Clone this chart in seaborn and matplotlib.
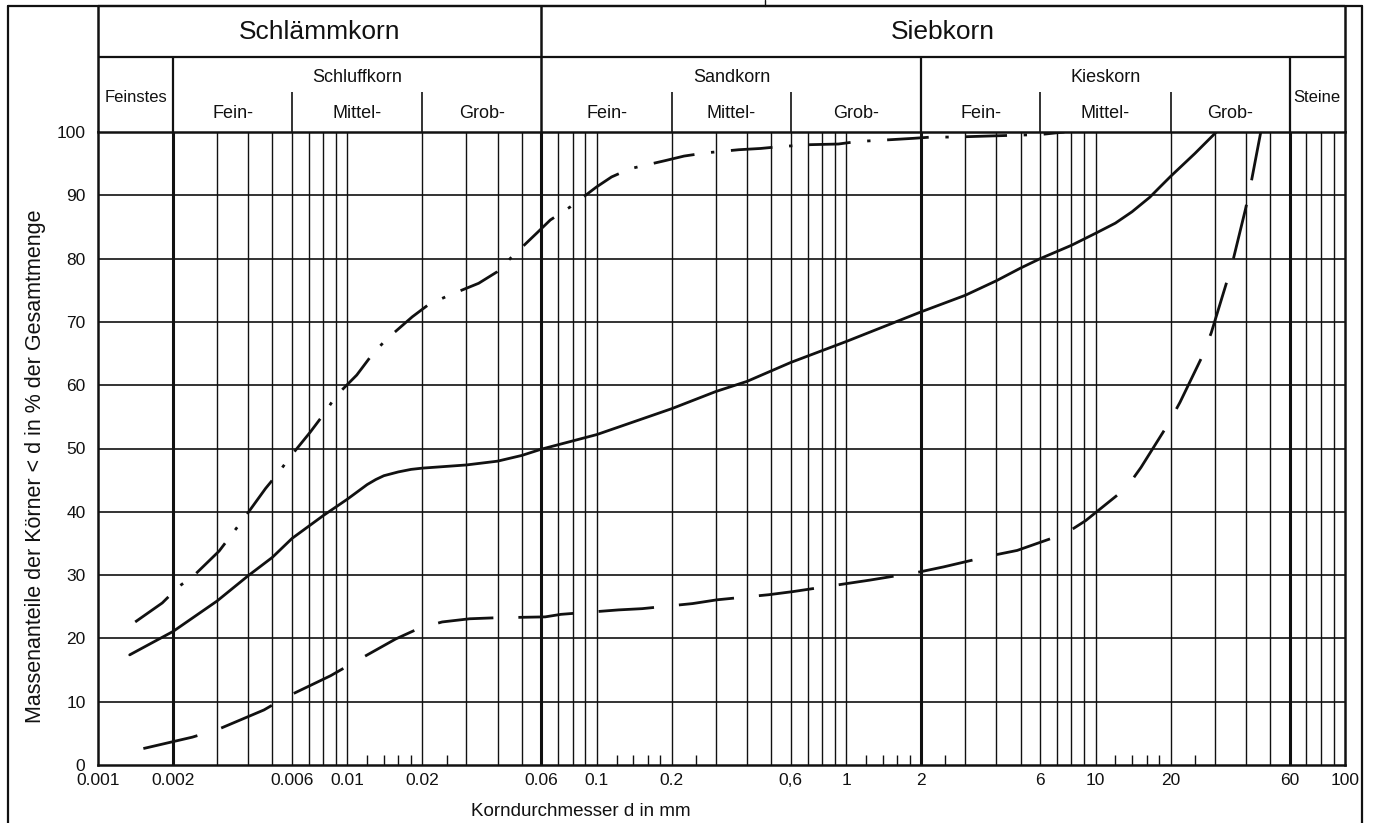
import matplotlib
matplotlib.use("Agg")
import matplotlib.pyplot as plt
from matplotlib.ticker import NullLocator
import numpy as np
import pandas as pd
import seaborn as sns

# Körnungslinien: Korndurchmesser d in mm, Massenanteil < d in %
solid_d = [0.00134, 0.002, 0.003, 0.004, 0.005, 0.006, 0.008, 0.01, 0.011, 0.012, 0.013,
           0.014, 0.016, 0.018, 0.02, 0.03, 0.04, 0.05, 0.06, 0.1, 0.2, 0.3, 0.4, 0.6, 1, 2,
           3, 4, 5, 6, 8, 10, 12, 14, 16.5, 18, 20, 25, 30.5]
solid_p = [17.4, 21.1, 25.9, 29.9, 32.8, 35.8, 39.4, 42.0, 43.2, 44.3, 45.1,
           45.7, 46.3, 46.7, 46.9, 47.4, 48.0, 48.9, 49.9, 52.2, 56.3, 59.0, 60.6, 63.6, 66.9, 71.6,
           74.2, 76.5, 78.5, 80.0, 82.1, 84.0, 85.6, 87.4, 89.7, 91.2, 93.0, 96.6, 100]

dashdot_d = [0.00141, 0.00181, 0.00211, 0.00242, 0.00306, 0.00345, 0.00387, 0.0047, 0.0053,
             0.0059, 0.0071, 0.0081, 0.009, 0.0109, 0.0126, 0.0143, 0.0182, 0.0211, 0.0252,
             0.0336, 0.0398, 0.0452, 0.0577, 0.0651, 0.0785, 0.0996, 0.1146, 0.136, 0.189,
             0.224, 0.273, 0.371, 0.454, 0.545, 0.72, 0.93, 1.11, 1.53, 1.86, 2.2, 2.7, 4.0,
             6.0, 7.5]
dashdot_p = [22.6, 25.6, 28.2, 29.9, 33.8, 36.5, 39.1, 43.7, 46.2,
             48.7, 52.6, 55.6, 58.3, 61.6, 64.9, 67.2, 70.8, 72.7, 74.1,
             76.1, 77.9, 80.1, 84.1, 86.1, 88.2, 91.3, 92.9, 94.2, 95.5,
             96.2, 96.7, 97.2, 97.4, 97.7, 98.0, 98.1, 98.5, 98.8, 99.0, 99.2, 99.2, 99.4,
             99.6, 100]

dashed_d = [0.00152, 0.00239, 0.00306, 0.00463, 0.00566, 0.00856, 0.0105, 0.0156, 0.0194,
            0.024, 0.0309, 0.0388, 0.0621, 0.0718, 0.1221, 0.152, 0.242, 0.304, 0.489, 0.613,
            0.98, 1.24, 1.97, 2.46, 3.85, 4.85, 7.6, 9.12, 13.3, 15.2, 19.5, 21.8, 26.8,
            29.1, 33.5, 35.7, 39.9, 41.8, 45.9]
dashed_p = [2.6, 4.4, 5.7, 8.7, 10.7, 14.1, 16.1, 19.9, 21.6,
            22.6, 23.1, 23.25, 23.4, 23.8, 24.5, 24.7, 25.5, 26.1, 26.9, 27.4,
            28.6, 29.2, 30.5, 31.3, 33.1, 33.9, 36.6, 38.6, 43.8, 47.0, 53.8, 57.3, 64.6,
            68.3, 76.2, 80.0, 87.8, 91.5, 99.9]

x_ticks = [0.001, 0.002, 0.006, 0.01, 0.02, 0.06, 0.1, 0.2, 0.6, 1, 2, 6, 10, 20, 60, 100]
x_labels = ["0.001", "0.002", "0.006", "0.01", "0.02", "0.06", "0.1", "0.2", "0,6",
            "1", "2", "6", "10", "20", "60", "100"]
y_ticks = list(range(0, 101, 10))

group_names = ["Schlämmkorn", "Siebkorn"]
group_edges = [0.001, 0.06, 100]
class_names = ["Feinstes", "Schluffkorn", "Sandkorn", "Kieskorn", "Steine"]
class_edges = [0.001, 0.002, 0.06, 2, 60, 100]
sub_names = ["Fein-", "Mittel-", "Grob-"]
sub_edges = [[0.002, 0.006, 0.02, 0.06], [0.06, 0.2, 0.6, 2], [2, 6, 20, 60]]

W, H = 1373, 823
INK = "#111111"


def gmean(a, b):
    return float(np.sqrt(a * b))


def main() -> None:
    sns.set_theme(style="white")
    plt.rcParams["font.family"] = ["Liberation Sans", "DejaVu Sans"]
    plt.rcParams["text.color"] = INK

    fig = plt.figure(figsize=(W / 100, H / 100), dpi=100)

    # outer border of the sheet
    frame = fig.add_axes([0, 0, 1, 1], zorder=-1)
    frame.set_xlim(0, W)
    frame.set_ylim(H, 0)
    frame.axis("off")
    frame.plot([8, 8], [6, H], color=INK, lw=1.6)
    frame.plot([1362, 1362], [6, H], color=INK, lw=1.6)
    frame.plot([8, 1362], [6, 6], color=INK, lw=1.6)
    frame.plot([765, 765], [0, 6], color=INK, lw=1.0)

    ax = fig.add_axes([98 / W, 1 - 765 / H, (1345 - 98) / W, (765 - 132) / H])
    ax.set_xscale("log")
    ax.set_xlim(0.001, 100)
    ax.set_ylim(0, 100)

    # vertical grid: 1..9 per decade, boundaries thicker
    grid_x = [m * 10.0 ** e for e in range(-3, 2) for m in range(2, 10)]
    grid_x += [10.0 ** e for e in range(-2, 2)]
    ax.vlines(grid_x, 0, 100, color=INK, lw=1.0, zorder=1)
    ax.vlines(class_edges[1:-1], 0, 100, color=INK, lw=2.2, zorder=1)
    ax.hlines(y_ticks[1:-1], 0.001, 100, color=INK, lw=1.2, zorder=1)
    small = [m * 10.0 ** e for e in range(-2, 2) for m in (1.2, 1.4, 1.6, 1.8, 2.5)]
    ax.vlines(small, 0, 1.6, color=INK, lw=1.0, zorder=1)

    line_kw = dict(color=INK, lw=2.0, sort=False, estimator=None, errorbar=None,
                   ax=ax, zorder=3)
    sns.lineplot(x=solid_d, y=solid_p, linestyle="-", **line_kw)
    sns.lineplot(x=dashdot_d, y=dashdot_p, linestyle=(0, (15, 6, 1.2, 6)), **line_kw)
    sns.lineplot(x=dashed_d, y=dashed_p, linestyle=(0, (20, 9)), **line_kw)

    for side in ["left", "right", "top", "bottom"]:
        ax.spines[side].set_color(INK)
        ax.spines[side].set_linewidth(1.8)
    ax.set_xticks(x_ticks)
    ax.set_xticklabels(x_labels)
    ax.xaxis.set_minor_locator(NullLocator())
    ax.set_yticks(y_ticks)
    ax.tick_params(axis="both", length=0, labelsize=12.5, colors=INK)
    ax.tick_params(axis="x", pad=6)
    ax.tick_params(axis="y", pad=9)
    ax.set_xlabel("")
    ax.set_ylabel("")
    ax.text(0.387, -0.074, "Korndurchmesser d in mm", transform=ax.transAxes,
            ha="center", va="center", fontsize=13.5)
    ax.text(-0.0505, 0.472, "Massenanteile der Körner < d in % der Gesamtmenge",
            transform=ax.transAxes, rotation=90, ha="center", va="center", fontsize=15.5)

    # header with soil class names, y in pixel rows
    hd = fig.add_axes([98 / W, 1 - 132 / H, (1345 - 98) / W, 132 / H])
    hd.set_xscale("log")
    hd.set_xlim(0.001, 100)
    hd.set_ylim(132, 0)
    hd.axis("off")
    hd.hlines([6, 57], 0.001, 100, color=INK, lw=1.6, clip_on=False)
    hd.vlines([0.001, 100, 0.06], 6, 132, color=INK, lw=1.8, clip_on=False)
    hd.vlines([0.002, 2, 60], 57, 132, color=INK, lw=1.6, clip_on=False)
    hd.vlines([b for edges in sub_edges for b in edges[1:-1]], 92, 132,
              color=INK, lw=1.2, clip_on=False)

    for name, a, b in zip(group_names, group_edges[:-1], group_edges[1:]):
        hd.text(gmean(a, b), 32, name, ha="center", va="center", fontsize=19)
    for name, a, b in zip(class_names, class_edges[:-1], class_edges[1:]):
        if name in ("Feinstes", "Steine"):
            hd.text(gmean(a, b), 97, name, ha="center", va="center", fontsize=12)
        else:
            hd.text(gmean(a, b), 77, name, ha="center", va="center", fontsize=13)
    for edges in sub_edges:
        for name, a, b in zip(sub_names, edges[:-1], edges[1:]):
            hd.text(gmean(a, b), 113, name, ha="center", va="center", fontsize=13)

    fig.savefig("out.png", dpi=100)
    plt.close(fig)


if __name__ == "__main__":
    main()
